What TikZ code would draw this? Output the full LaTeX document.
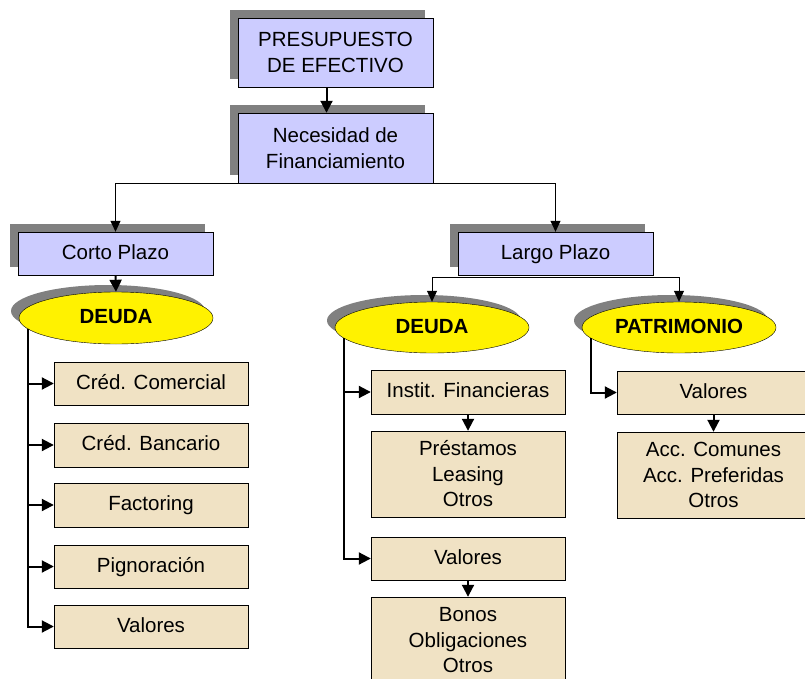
\documentclass[tikz,border=0pt]{standalone}
\usepackage{fontspec}
\setmainfont{Liberation Sans}
\usetikzlibrary{arrows.meta}
\usetikzlibrary{shadows}
\usetikzlibrary{shapes.geometric}

\definecolor{lila}{RGB}{204,204,255}
\definecolor{pergamino}{RGB}{240,226,196}
\definecolor{sombra}{RGB}{128,128,128}

\begin{document}
\begin{tikzpicture}[x=1pt, y=1pt,
      every node/.style={font=\fontsize{20.5}{25.5}\selectfont, align=center, inner sep=0pt},
      linea/.style={text height=15pt, text depth=4pt},
      titulo/.style={draw, fill=lila, minimum width=195, general shadow={fill=sombra, shadow xshift=-8pt, shadow yshift=8pt}},
      elipse/.style={ellipse, draw, fill=yellow, minimum width=194, minimum height=52, font=\fontsize{20.5}{25}\selectfont\bfseries, general shadow={fill=sombra, shadow xshift=-8pt, shadow yshift=7pt}},
      caja/.style={draw, fill=pergamino, minimum width=194},
      flecha/.style={line width=2pt, -{Triangle[length=12pt, width=12pt]}},
      fina/.style={line width=1pt, -{Triangle[length=11pt, width=10pt]}}]
          \useasboundingbox (0,0) rectangle (805,-679);

          % cabecera
          \node[titulo, minimum height=69] (pres) at (335.5,-52.5) {PRESUPUESTO\\DE EFECTIVO};
          \node[titulo, minimum height=70] (nec) at (335.5,-148) {Necesidad de\\Financiamiento};
          \draw[flecha] ([xshift=-9pt]pres.south) -- ([xshift=-9pt]nec.north);

          % plazos
          \node[titulo, linea, minimum height=43] (corto) at (115.5,-253.5) {Corto Plazo};
          \node[titulo, linea, minimum height=43] (largo) at (555.5,-253.5) {Largo Plazo};
          \draw[fina] (nec.south) -| (corto.north);
          \draw[fina] (nec.south) -| (largo.north);

          % deuda y patrimonio
          \node[elipse, linea] (deudaC) at (116,-318) {DEUDA};
          \node[elipse, linea, minimum height=51] (deudaL) at (432,-327.5) {DEUDA};
          \node[elipse, linea, minimum height=51] (patri) at (679,-327.5) {PATRIMONIO};
          \draw[flecha] (corto.south) -- (deudaC.north);
          \draw[fina] ([yshift=-2pt]largo.south) -| (deudaL.north);
          \draw[fina] ([yshift=-2pt]largo.south) -| (patri.north);

          % corto plazo
          \node[caja, linea, minimum height=43] (comercial) at (151,-383.5) {Créd. Comercial};
          \node[caja, linea, minimum height=44] (bancario) at (151,-445) {Créd. Bancario};
          \node[caja, linea, minimum height=44] (factoring) at (151,-505) {Factoring};
          \node[caja, linea, minimum height=43] (pignora) at (151,-566.5) {Pignoración};
          \node[caja, linea, minimum height=43] (valoresC) at (151,-626.5) {Valores};
          \draw[flecha] (deudaC.187) |- (comercial.west);
          \draw[flecha] (deudaC.187) |- (bancario.west);
          \draw[flecha] (deudaC.187) |- (factoring.west);
          \draw[flecha] (deudaC.187) |- (pignora.west);
          \draw[flecha] (deudaC.187) |- (valoresC.west);

          % largo plazo, deuda
          \node[caja, linea, minimum height=44] (instit) at (468,-392) {Instit. Financieras};
          \node[caja, minimum height=86] (prestamos) at (468,-474) {Préstamos\\Leasing\\Otros};
          \node[caja, linea, minimum height=43] (valoresL) at (468,-558.5) {Valores};
          \node[caja, minimum height=87] (bonos) at (468,-640.5) {Bonos\\Obligaciones\\Otros};
          \draw[flecha] (deudaL.187) |- (instit.west);
          \draw[flecha] (deudaL.187) |- (valoresL.west);
          \draw[flecha] (instit.south) -- (prestamos.north);
          \draw[flecha] (valoresL.south) -- (bonos.north);

          % largo plazo, patrimonio
          \node[caja, linea, minimum width=193, minimum height=43] (valoresP) at (713.5,-392.5) {Valores};
          \node[caja, minimum width=193, minimum height=86] (acciones) at (713.5,-475) {Acc. Comunes\\Acc. Preferidas\\Otros};
          \draw[flecha] (patri.187) |- (valoresP.west);
          \draw[flecha] (valoresP.south) -- (acciones.north);

\end{tikzpicture}
\end{document}
